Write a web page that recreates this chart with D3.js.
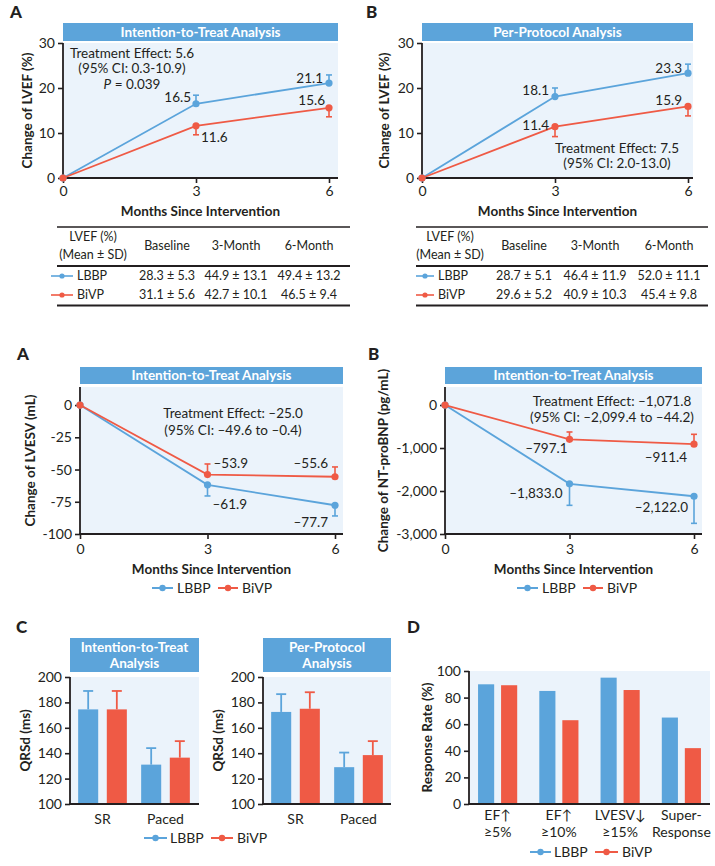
<!DOCTYPE html>
<html><head><meta charset="utf-8">
<script src="https://cdn.jsdelivr.net/npm/d3@7"></script>
<style>
body{margin:0;background:#fff}
svg{display:block}
text{font-family:Lato,"Open Sans",sans-serif;fill:#231f20}
</style>
</head><body>
<svg id="c" width="715" height="866"></svg>
<script>
// ---------------- DATA ----------------
const months = [0, 3, 6];
const seriesNames = ["LBBP", "BiVP"];

const lvefIttLBBP = [0, 16.5, 21.1];
const lvefIttLBBPErr = [0, 1.9, 1.8];
const lvefIttBiVP = [0, 11.6, 15.6];
const lvefIttBiVPErr = [0, 2.0, 2.0];

const lvefPpLBBP = [0, 18.1, 23.3];
const lvefPpLBBPErr = [0, 1.9, 2.0];
const lvefPpBiVP = [0, 11.4, 15.9];
const lvefPpBiVPErr = [0, 2.2, 2.1];

const lvesvLBBP = [0, -61.9, -77.7];
const lvesvLBBPErr = [0, 8.6, 8.3];
const lvesvBiVP = [0, -53.9, -55.6];
const lvesvBiVPErr = [0, 8.2, 7.6];

const ntLBBP = [0, -1833.0, -2122.0];
const ntLBBPErr = [0, 500, 630];
const ntBiVP = [0, -797.1, -911.4];
const ntBiVPErr = [0, 170, 230];

const lvefTicks = [0, 10, 20, 30];
const lvesvTicks = [0, -25, -50, -75, -100];
const ntTicks = [0, -1000, -2000, -3000];

const tableColumns = ["Baseline", "3-Month", "6-Month"];
const tableIttLBBP = ["28.3 ± 5.3", "44.9 ± 13.1", "49.4 ± 13.2"];
const tableIttBiVP = ["31.1 ± 5.6", "42.7 ± 10.1", "46.5 ± 9.4"];
const tablePpLBBP = ["28.7 ± 5.1", "46.4 ± 11.9", "52.0 ± 11.1"];
const tablePpBiVP = ["29.6 ± 5.2", "40.9 ± 10.3", "45.4 ± 9.8"];

const qrsCategories = [["SR"], ["Paced"]];
const qrsIttLBBP = [174.5, 131];
const qrsIttLBBPErr = [14.5, 13];
const qrsIttBiVP = [174.5, 136.5];
const qrsIttBiVPErr = [14.5, 13];
const qrsPpLBBP = [172.5, 129];
const qrsPpLBBPErr = [14, 11.5];
const qrsPpBiVP = [175, 138.5];
const qrsPpBiVPErr = [13, 11];
const qrsTicks = [100, 120, 140, 160, 180, 200];

const responseCategories = [["EF\u2191", "\u22655%"], ["EF\u2191", "\u226510%"], ["LVESV\u2193", "\u226515%"], ["Super-", "Response"]];
const responseLBBP = [90, 85, 95, 65];
const responseBiVP = [89.3, 63, 85.7, 42];
const responseTicks = [0, 20, 40, 60, 80, 100];

// ---------------- STYLE ----------------
const BLUE = "#5ba4db", RED = "#ef5a45", BARBLUE = "#5ba4da", BAR = "#5ca4da", BG = "#ebf3fb", INK = "#231f20";
const svg = d3.select("#c");
const fmtTick = d => (d < 0 ? "-" : "") + d3.format(",")(Math.abs(d));
const colorOf = n => n === "LBBP" ? BLUE : RED;

function letter(t, x, y) {
  svg.append("text").attr("x", x).attr("y", y).attr("font-size", 17).attr("font-weight", 900).text(t);
}
function titleBar(lines, x0, x1, y0, y1) {
  svg.append("rect").attr("x", x0).attr("y", y0).attr("width", x1 - x0).attr("height", y1 - y0).attr("fill", BAR);
  const cy = (y0 + y1) / 2, lh = 16;
  lines.forEach((l, i) => svg.append("text")
    .attr("x", (x0 + x1) / 2).attr("y", cy + (i - (lines.length - 1) / 2) * lh)
    .attr("dy", "0.36em").attr("text-anchor", "middle")
    .attr("font-size", 13.5).attr("font-weight", "bold").style("fill", "#fff").text(l));
}
function yTitle(t, x, y) {
  svg.append("text").attr("transform", `translate(${x},${y}) rotate(-90)`)
    .attr("text-anchor", "middle").attr("dy", "0.35em")
    .attr("font-size", 13.5).attr("font-weight", "bold").text(t);
}
function legend(items, y) {
  items.forEach(it => {
    const col = colorOf(it.name);
    svg.append("line").attr("x1", it.x1).attr("x2", it.x2).attr("y1", y).attr("y2", y)
      .attr("stroke", col).attr("stroke-width", 2);
    svg.append("circle").attr("cx", (it.x1 + it.x2) / 2).attr("cy", y).attr("r", 3.2).attr("fill", col);
    svg.append("text").attr("x", it.tx).attr("y", y).attr("dy", "0.35em").attr("font-size", 14).text(it.name);
  });
}
function styleAxis(g, size) {
  g.attr("font-size", size).attr("font-family", null).attr("color", INK);
  g.select(".domain").remove();
  g.selectAll(".tick line").attr("stroke-width", 1.6);
}

function linePanel(c) {
  const x = d3.scaleLinear().domain([0, 6]).range([c.left, c.x6]);
  const y = d3.scaleLinear().domain(c.yDomain).range([c.bottom, c.top]);
  svg.append("rect").attr("x", c.left).attr("y", c.top).attr("width", c.right - c.left)
    .attr("height", c.bottom - c.top).attr("fill", BG);
  titleBar([c.title], c.left, c.right, c.barTop, c.barBottom);

  const gy = svg.append("g").attr("transform", `translate(${c.left},0)`)
    .call(d3.axisLeft(y).tickValues(c.yTicks).tickFormat(fmtTick).tickSize(5).tickPadding(3));
  styleAxis(gy, 14);
  const gx = svg.append("g").attr("transform", `translate(0,${c.bottom})`)
    .call(d3.axisBottom(x).tickValues(months).tickFormat(d3.format("d")).tickSize(5).tickPadding(c.xPad || 3));
  styleAxis(gx, 14);
  svg.append("line").attr("x1", c.left).attr("x2", c.left).attr("y1", c.top).attr("y2", c.bottom + 0.8)
    .attr("stroke", INK).attr("stroke-width", 1.8);
  svg.append("line").attr("x1", c.left - 0.8).attr("x2", c.right).attr("y1", c.bottom).attr("y2", c.bottom)
    .attr("stroke", INK).attr("stroke-width", 1.8);

  const line = d3.line().x(d => x(d.m)).y(d => y(d.v));
  c.series.forEach(s => {
    const col = colorOf(s.name);
    const pts = months.map((m, i) => ({ m, v: s.values[i], e: s.errs[i], i }));
    svg.append("path").datum(pts).attr("d", line).attr("fill", "none").attr("stroke", col).attr("stroke-width", 1.8);
    pts.filter(p => p.e > 0).forEach(p => {
      const ye = y(p.v + s.dir * p.e);
      svg.append("line").attr("x1", x(p.m)).attr("x2", x(p.m)).attr("y1", y(p.v)).attr("y2", ye)
        .attr("stroke", col).attr("stroke-width", 1.6);
      svg.append("line").attr("x1", x(p.m) - 3).attr("x2", x(p.m) + 3).attr("y1", ye).attr("y2", ye)
        .attr("stroke", col).attr("stroke-width", 1.6);
    });
    svg.selectAll(null).data(pts).enter().append("circle")
      .attr("cx", d => x(d.m)).attr("cy", d => y(d.v)).attr("r", 3.6).attr("fill", col);
    pts.filter(p => p.i > 0).forEach(p => {
      const o = s.labels[p.i - 1];
      svg.append("text").attr("x", x(p.m) + o[0]).attr("y", y(p.v) + o[1]).attr("dy", "0.35em")
        .attr("text-anchor", o[0] < 0 ? "end" : "start").attr("font-size", 13.5).text(c.valFmt(p.v));
    });
  });
  c.note.lines.forEach((l, i) => {
    const t = svg.append("text").attr("x", c.note.x).attr("y", c.note.y + i * c.note.lh).attr("dy", "0.35em")
      .attr("text-anchor", "middle").attr("font-size", 13.5);
    if (l.startsWith("P ")) {
      t.append("tspan").attr("font-style", "italic").text("P");
      t.append("tspan").text(l.slice(1));
    } else t.text(l);
  });
  svg.append("text").attr("x", (c.left + c.right) / 2).attr("y", c.xTitleY).attr("dy", "0.35em")
    .attr("text-anchor", "middle").attr("font-size", 13.5).attr("font-weight", "bold").text("Months Since Intervention");
  yTitle(c.ylabel, c.ylabelX, (c.top + c.bottom) / 2);
}

function barPanel(c) {
  const x0 = d3.scaleBand().domain(d3.range(c.cats.length)).range(c.xRange);
  const x1 = d3.scaleBand().domain(seriesNames).range([0, x0.bandwidth()]).paddingInner(c.pi).paddingOuter(c.po);
  const y = d3.scaleLinear().domain(c.yDomain).range([c.bottom, c.top]);
  svg.append("rect").attr("x", c.left).attr("y", c.top).attr("width", c.right - c.left)
    .attr("height", c.bottom - c.top).attr("fill", BG);
  if (c.title) titleBar(c.title, c.left, c.right, c.barTop, c.barBottom);
  c.series.forEach(s => {
    const col = colorOf(s.name);
    s.values.forEach((v, i) => {
      const bx = x0(i) + x1(s.name);
      svg.append("rect").attr("x", bx).attr("y", y(v)).attr("width", x1.bandwidth())
        .attr("height", y(c.yDomain[0]) - y(v)).attr("fill", col);
      if (s.errs) {
        const cx = bx + x1.bandwidth() / 2, ye = y(v + s.errs[i]);
        svg.append("line").attr("x1", cx).attr("x2", cx).attr("y1", y(v)).attr("y2", ye).attr("stroke", col).attr("stroke-width", 1.8);
        svg.append("line").attr("x1", cx - 5).attr("x2", cx + 5).attr("y1", ye).attr("y2", ye).attr("stroke", col).attr("stroke-width", 1.8);
      }
    });
  });
  const gy = svg.append("g").attr("transform", `translate(${c.left},0)`)
    .call(d3.axisLeft(y).tickValues(c.yTicks).tickSize(5).tickPadding(3));
  styleAxis(gy, 14);
  svg.append("line").attr("x1", c.left).attr("x2", c.left).attr("y1", c.top).attr("y2", c.bottom + 0.9)
    .attr("stroke", INK).attr("stroke-width", 1.8);
  svg.append("line").attr("x1", c.left - 0.9).attr("x2", c.right).attr("y1", c.bottom).attr("y2", c.bottom)
    .attr("stroke", INK).attr("stroke-width", 1.8);
  c.cats.forEach((lines, i) => {
    lines.forEach((l, j) => svg.append("text").attr("x", x0(i) + x0.bandwidth() / 2)
      .attr("y", c.catY + j * 17).attr("dy", "0.35em").attr("text-anchor", "middle").attr("font-size", 14).text(l));
  });
  yTitle(c.ylabel, c.ylabelX, (c.top + c.bottom) / 2);
}

function table(c) {
  const rule = (yy, w) => svg.append("line").attr("x1", c.x0).attr("x2", c.x1).attr("y1", yy).attr("y2", yy)
    .attr("stroke", INK).attr("stroke-width", w);
  rule(227, 1.3); rule(266, 2); rule(305.5, 2.2);
  [["LVEF (%)", 237], ["(Mean ± SD)", 255]].forEach(([t, yy]) => svg.append("text").attr("x", c.labelX).attr("y", yy)
    .attr("dy", "0.35em").attr("text-anchor", "middle").attr("font-size", 12.5).text(t));
  tableColumns.forEach((t, i) => svg.append("text").attr("x", c.colX[i]).attr("y", 246).attr("dy", "0.35em")
    .attr("text-anchor", "middle").attr("font-size", 12.5).text(t));
  c.rows.forEach((r, k) => {
    const yy = 276 + k * 19, col = colorOf(r.name);
    svg.append("line").attr("x1", c.lx1).attr("x2", c.lx2).attr("y1", yy).attr("y2", yy).attr("stroke", col).attr("stroke-width", 1.6);
    svg.append("circle").attr("cx", (c.lx1 + c.lx2) / 2).attr("cy", yy).attr("r", 2.6).attr("fill", col);
    svg.append("text").attr("x", c.lx2 + 4).attr("y", yy).attr("dy", "0.35em").attr("font-size", 12.5).text(r.name);
    r.values.forEach((v, i) => svg.append("text").attr("x", c.colX[i]).attr("y", yy).attr("dy", "0.35em")
      .attr("text-anchor", "middle").attr("font-size", 12.5).text(v));
  });
}

// ---------------- DRAW ----------------
const f1 = d3.format(".1f");
const fDash = d => "\u2013" + d3.format(",.1f")(Math.abs(d));

letter("A", 10, 18);
linePanel({
  left: 63, right: 338, top: 43, bottom: 178, x6: 329, barTop: 23, barBottom: 41,
  yDomain: [0, 30], yTicks: lvefTicks, title: "Intention-to-Treat Analysis",
  ylabel: "Change of LVEF (%)", ylabelX: 27, xTitleY: 211, valFmt: f1,
  series: [
    { name: "LBBP", values: lvefIttLBBP, errs: lvefIttLBBPErr, dir: 1, labels: [[-5, -6], [-6, -5]] },
    { name: "BiVP", values: lvefIttBiVP, errs: lvefIttBiVPErr, dir: -1, labels: [[5, 11], [-4, -8]] }
  ],
  note: { x: 132, y: 53, lh: 15.5, lines: ["Treatment Effect: 5.6", "(95% CI: 0.3-10.9)", "P = 0.039"] }
});

letter("B", 366, 18);
linePanel({
  left: 422, right: 693, top: 43, bottom: 178, x6: 688, barTop: 23, barBottom: 41,
  yDomain: [0, 30], yTicks: lvefTicks, title: "Per-Protocol Analysis",
  ylabel: "Change of LVEF (%)", ylabelX: 384, xTitleY: 211, valFmt: f1,
  series: [
    { name: "LBBP", values: lvefPpLBBP, errs: lvefPpLBBPErr, dir: 1, labels: [[-6, -6], [-6, -5]] },
    { name: "BiVP", values: lvefPpBiVP, errs: lvefPpBiVPErr, dir: -1, labels: [[-6, -1], [-6, -6]] }
  ],
  note: { x: 617, y: 148, lh: 15.5, lines: ["Treatment Effect: 7.5", "(95% CI: 2.0-13.0)"] }
});

table({
  x0: 57, x1: 350, labelX: 93, colX: [167, 236, 309], lx1: 51, lx2: 73,
  rows: [{ name: "LBBP", values: tableIttLBBP }, { name: "BiVP", values: tableIttBiVP }]
});
table({
  x0: 416, x1: 708, labelX: 450, colX: [524, 595, 669], lx1: 416, lx2: 434,
  rows: [{ name: "LBBP", values: tablePpLBBP }, { name: "BiVP", values: tablePpBiVP }]
});

letter("A", 17, 360);
linePanel({
  left: 80, right: 343, top: 387, bottom: 534, x6: 335, barTop: 367, barBottom: 384,
  yDomain: [-100, 14], yTicks: lvesvTicks, title: "Intention-to-Treat Analysis",
  ylabel: "Change of LVESV (mL)", ylabelX: 30, xTitleY: 569, xPad: 5, valFmt: fDash,
  series: [
    { name: "LBBP", values: lvesvLBBP, errs: lvesvLBBPErr, dir: -1, labels: [[5, 19], [-7, 17]] },
    { name: "BiVP", values: lvesvBiVP, errs: lvesvBiVPErr, dir: 1, labels: [[6, -11], [-7, -13]] }
  ],
  note: { x: 233, y: 413, lh: 17, lines: ["Treatment Effect: \u201325.0", "(95% CI: \u201349.6 to \u20130.4)"] }
});
legend([{ name: "LBBP", x1: 152, x2: 173, tx: 177 }, { name: "BiVP", x1: 218, x2: 238, tx: 242 }], 588);

letter("B", 368, 360);
linePanel({
  left: 445, right: 702, top: 387, bottom: 534, x6: 694, barTop: 367, barBottom: 384,
  yDomain: [-3000, 419], yTicks: ntTicks, title: "Intention-to-Treat Analysis",
  ylabel: "Change of NT-proBNP (pg/mL)", ylabelX: 383, xTitleY: 569, xPad: 5, valFmt: fDash,
  series: [
    { name: "LBBP", values: ntLBBP, errs: ntLBBPErr, dir: -1, labels: [[-7, 9], [-6, 11]] },
    { name: "BiVP", values: ntBiVP, errs: ntBiVPErr, dir: 1, labels: [[-2, 9], [-7, 13]] }
  ],
  note: { x: 612, y: 401, lh: 16.5, lines: ["Treatment Effect: \u20131,071.8", "(95% CI: \u20132,099.4 to \u201344.2)"] }
});
legend([{ name: "LBBP", x1: 517, x2: 538, tx: 542 }, { name: "BiVP", x1: 583, x2: 603, tx: 607 }], 588);

letter("C", 16, 633);
barPanel({
  left: 70, right: 199, top: 677, bottom: 804, xRange: [71, 197], pi: 0.3, po: 0.25,
  yDomain: [100, 200], yTicks: qrsTicks, title: ["Intention-to-Treat", "Analysis"], barTop: 638, barBottom: 672,
  cats: qrsCategories, catY: 819, ylabel: "QRSd (ms)", ylabelX: 25,
  series: [{ name: "LBBP", values: qrsIttLBBP, errs: qrsIttLBBPErr }, { name: "BiVP", values: qrsIttBiVP, errs: qrsIttBiVPErr }]
});
barPanel({
  left: 263, right: 391, top: 677, bottom: 804, xRange: [264, 390], pi: 0.3, po: 0.25,
  yDomain: [100, 200], yTicks: qrsTicks, title: ["Per-Protocol", "Analysis"], barTop: 638, barBottom: 672,
  cats: qrsCategories, catY: 819, ylabel: "QRSd (ms)", ylabelX: 218,
  series: [{ name: "LBBP", values: qrsPpLBBP, errs: qrsPpLBBPErr }, { name: "BiVP", values: qrsPpBiVP, errs: qrsPpBiVPErr }]
});
legend([{ name: "LBBP", x1: 144, x2: 167, tx: 170 }, { name: "BiVP", x1: 211, x2: 233, tx: 237 }], 838);

letter("D", 407, 633);
barPanel({
  left: 469, right: 710, top: 671, bottom: 804, xRange: [467, 712], pi: 0.3, po: 0.48,
  yDomain: [0, 100], yTicks: responseTicks,
  cats: responseCategories, catY: 815, ylabel: "Response Rate (%)", ylabelX: 427,
  series: [{ name: "LBBP", values: responseLBBP }, { name: "BiVP", values: responseBiVP }]
});
legend([{ name: "LBBP", x1: 530, x2: 551, tx: 554 }, { name: "BiVP", x1: 595, x2: 618, tx: 622 }], 852);
</script>
</body></html>
